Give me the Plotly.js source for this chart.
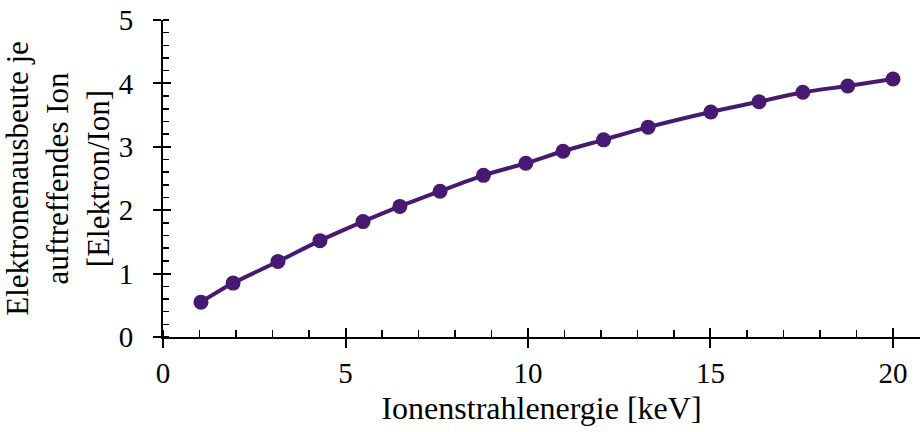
<!DOCTYPE html>
<html>
<head>
<meta charset="utf-8">
<script src="https://cdn.plot.ly/plotly-3.0.1.min.js"></script>
<style>html,body{margin:0;padding:0;background:#fff}#chart{width:923px;height:432px}</style>
</head>
<body>
<div id="chart"></div>
<script>
const energy = [1.04, 1.92, 3.15, 4.30, 5.48, 6.49, 7.59, 8.78, 9.94, 10.96, 12.07, 13.29, 15.01, 16.33, 17.53, 18.76, 20.0];
const yieldPerIon = [0.55, 0.85, 1.19, 1.52, 1.82, 2.06, 2.30, 2.55, 2.74, 2.93, 3.11, 3.31, 3.55, 3.71, 3.86, 3.96, 4.07];
const xTitle = 'Ionenstrahlenergie [keV]';
const yTitle = 'Elektronenausbeute je<br>auftreffendes Ion<br>[Elektron/Ion]';

const color = '#461a71';
const fam = 'Liberation Serif, Times New Roman, serif';
const tickFont = {family: fam, size: 29, color: '#000'};
const xTitleFont = {family: fam, size: 32, color: '#000'};
const yTitleFont = {family: fam, size: 31, color: '#000'};

const traces = [
  {x: energy, y: yieldPerIon, type: 'scatter', mode: 'lines+markers',
   line: {color: color, width: 4, shape: 'spline', smoothing: 0.8},
   marker: {color: color, size: 15}, hoverinfo: 'skip', showlegend: false},
  {x: [], y: [], xaxis: 'x2', yaxis: 'y2', type: 'scatter', showlegend: false}
];

const xr = [0, 20.74], yr = [0, 5];
const layout = {
  width: 923, height: 432,
  margin: {l: 163, r: 3, t: 20, b: 95},
  paper_bgcolor: '#fff', plot_bgcolor: '#fff',
  font: tickFont,
  showlegend: false,
  xaxis: {range: xr, dtick: 5, tick0: 0, showgrid: false, zeroline: false,
    showline: true, linecolor: '#000', linewidth: 2,
    ticks: 'outside', ticklen: 9, tickwidth: 2, tickcolor: '#000',
    minor: {dtick: 1, ticks: 'inside', ticklen: 7, tickwidth: 1.5, tickcolor: '#000', showgrid: false},
    tickfont: tickFont,
    title: {text: xTitle, font: xTitleFont, standoff: 9}},
  yaxis: {range: yr, dtick: 1, tick0: 0, showgrid: false, zeroline: false,
    showline: true, linecolor: '#000', linewidth: 2,
    ticks: 'outside', ticklen: 8, tickwidth: 2, tickcolor: '#000',
    ticklabelstandoff: 14,
    minor: {dtick: 0.2, ticks: 'inside', ticklen: 6, tickwidth: 1.5, tickcolor: '#000', showgrid: false},
    tickfont: tickFont,
    title: {text: yTitle, font: yTitleFont, standoff: 2}},
  xaxis2: {range: xr, dtick: 5, tick0: 0, overlaying: 'x', anchor: 'y2', side: 'bottom',
    showgrid: false, zeroline: false, showline: false, showticklabels: false,
    ticks: 'inside', ticklen: 9, tickwidth: 2, tickcolor: '#000'},
  yaxis2: {range: yr, dtick: 1, tick0: 0, overlaying: 'y', anchor: 'x2', side: 'left',
    showgrid: false, zeroline: false, showline: false, showticklabels: false,
    ticks: 'inside', ticklen: 8, tickwidth: 2, tickcolor: '#000'}
};

Plotly.newPlot('chart', traces, layout, {displayModeBar: false, staticPlot: true});
</script>
</body>
</html>
